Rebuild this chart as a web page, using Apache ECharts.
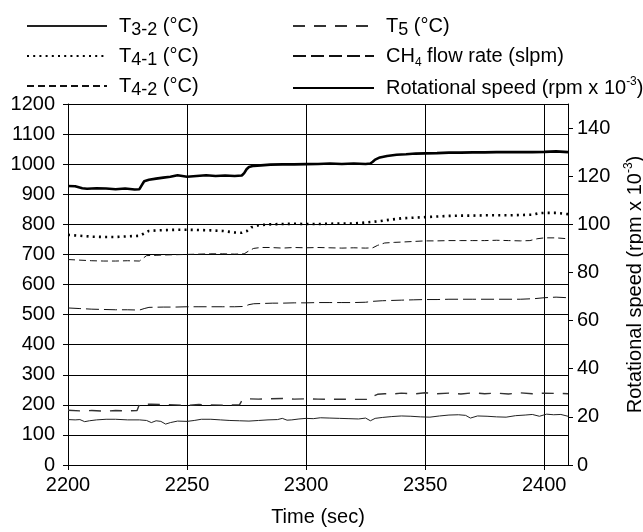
<!DOCTYPE html>
<html>
<head>
<meta charset="utf-8">
<script src="https://cdn.jsdelivr.net/npm/echarts@6/dist/echarts.min.js"></script>
<style>html,body{margin:0;padding:0;background:#fff;}#c{width:643px;height:532px;}</style>
</head>
<body>
<div id="c"></div>
<script>
// ---- data ----
const xTicks = [2200, 2250, 2300, 2350, 2400];
const leftTicks = [0, 100, 200, 300, 400, 500, 600, 700, 800, 900, 1000, 1100, 1200];
const rightTicks = [0, 20, 40, 60, 80, 100, 120, 140];

const t32Time = [2200,2203,2205,2207,2209,2212,2216,2220,2225,2230,2233,2235,2237,2239,2241,2243,2246,2250,2253,2256,2260,2264,2268,2272,2276,2280,2284,2288,2290,2292,2294,2297,2300,2303,2306,2310,2314,2318,2322,2325,2327,2329,2332,2336,2340,2344,2348,2352,2356,2360,2364,2367,2369,2372,2376,2380,2384,2388,2392,2395,2398,2401,2404,2407,2410];
const t32Values = [151,150,151,144,147,150,152,152,150,150,148,141,147,145,136,141,146,145,148,152,152,150,148,147,146,148,150,151,155,149,150,153,155,154,157,156,155,154,153,156,147,155,158,161,163,162,160,159,163,166,167,165,156,163,162,160,159,164,166,168,162,169,167,168,162];

const t41Time = [2200,2205,2210,2215,2220,2225,2230,2232,2234,2238,2242,2246,2250,2255,2260,2265,2270,2273,2275,2277,2280,2285,2290,2295,2300,2305,2310,2315,2320,2325,2330,2335,2340,2345,2350,2355,2360,2365,2370,2375,2380,2385,2390,2395,2398,2400,2405,2410];
const t41Values = [765,762,759,758,758,760,762,770,778,780,781,782,782,781,780,778,773,772,777,790,797,800,801,802,801,801,802,803,803,806,810,815,820,822,824,826,828,829,829,830,830,830,831,832,837,838,838,834];

const t42Time = [2200,2205,2210,2215,2220,2225,2230,2231,2233,2237,2240,2245,2250,2255,2260,2265,2270,2274,2276,2278,2281,2285,2290,2295,2300,2305,2310,2315,2320,2325,2328,2330,2333,2337,2340,2345,2350,2355,2360,2365,2370,2375,2380,2385,2390,2394,2397,2400,2405,2410];
const t42Values = [683,681,679,678,678,679,678,684,696,697,698,699,700,701,702,702,701,702,712,720,723,723,721,723,722,723,722,721,722,721,722,730,738,740,741,743,745,745,746,746,746,746,747,746,745,746,752,755,755,752];

const t5Time = [2200,2205,2210,2215,2220,2225,2229,2230,2235,2240,2245,2250,2255,2260,2265,2270,2272,2273,2275,2280,2285,2290,2295,2300,2305,2310,2315,2320,2325,2327,2328,2330,2333,2336,2340,2345,2350,2355,2360,2365,2370,2375,2380,2385,2390,2395,2400,2405,2410];
const t5Values = [182,180,181,179,181,180,181,201,202,201,200,198,201,200,199,200,200,214,220,219,220,221,219,220,219,218,219,218,218,219,228,235,237,236,239,236,240,237,239,236,240,237,239,236,240,237,239,238,237];

const ch4Time = [2200,2205,2210,2215,2220,2225,2230,2232,2234,2240,2245,2250,2255,2260,2265,2270,2274,2276,2278,2282,2286,2290,2295,2300,2305,2310,2315,2320,2325,2328,2332,2336,2340,2345,2350,2355,2360,2370,2380,2390,2396,2400,2405,2410];
const ch4Values = [522,520,518,517,516,516,515,520,524,525,525,526,526,526,526,526,527,533,536,537,538,538,539,539,540,540,540,540,541,544,546,547,548,549,550,550,551,551,551,551,553,556,558,556];

const rotTime = [2200,2203,2206,2208,2212,2216,2220,2224,2228,2230,2231,2232,2234,2237,2240,2243,2246,2250,2254,2258,2262,2266,2270,2273,2274,2275,2276,2278,2281,2285,2290,2295,2300,2305,2310,2315,2320,2325,2327,2328,2329,2331,2334,2338,2342,2346,2350,2355,2360,2365,2370,2375,2380,2385,2390,2395,2400,2405,2410];
const rotValues = [115.9,115.8,115.0,114.8,115.0,114.9,114.6,114.9,114.5,114.6,116.3,117.9,118.5,119.0,119.4,119.8,120.4,119.8,120.1,120.4,120.1,120.3,120.1,120.3,121.3,122.9,123.8,124.3,124.5,124.8,124.9,124.9,125.0,125.1,125.3,125.1,125.3,125.1,125.3,126.0,126.9,127.8,128.4,128.9,129.1,129.4,129.5,129.6,129.8,129.8,129.9,129.9,130.0,130.0,130.0,130.0,130.1,130.3,130.0];

const names = {
  t32: 'T3-2 (°C)', t41: 'T4-1 (°C)', t42: 'T4-2 (°C)',
  t5: 'T5 (°C)', ch4: 'CH4 flow rate (slpm)', rot: 'Rotational speed (rpm x 10-3)'
};
const legendRich = {
  '{g| }{m|T}{s|3-2}{m| (°C)}': names.t32,
  '{g| }{m|T}{s|4-1}{m| (°C)}': names.t41,
  '{g| }{m|T}{s|4-2}{m| (°C)}': names.t42,
  '{g| }{m|T}{s|5}{m| (°C)}': names.t5,
  '{g| }{m|CH}{s4|4}{m| flow rate (slpm)}': names.ch4,
  '{g| }{m|Rotational speed (rpm x 10}{sup|-3}{m|)}': names.rot
};
const richByName = {};
Object.keys(legendRich).forEach(k => { richByName[legendRich[k]] = k; });

const FONT = '"Liberation Sans", Arial, sans-serif';
const FS = 20;
const rich = {
  g: { width: 7, fontSize: FS, fontFamily: FONT },
  m: { fontSize: FS, fontFamily: FONT, color: '#000' },
  s: { fontSize: 18, fontFamily: FONT, color: '#000', padding: [9, 0, 0, 0] },
  s4: { fontSize: 12, fontFamily: FONT, color: '#000', padding: [14, 0, 0, 0] },
  sup: { fontSize: 12, fontFamily: FONT, color: '#000', padding: [0, 0, 12, 0] }
};

function pairs(t, v) { return t.map((x, i) => [x, v[i]]); }
const plain = v => String(v);

function legendAt(name, left, top, w) {
  return {
    data: [name], left: left, top: top, padding: 0,
    itemWidth: w, itemHeight: 14,
    itemStyle: { opacity: 0 },
    formatter: n => richByName[n],
    textStyle: { rich: rich }
  };
}

const chart = echarts.init(document.getElementById('c'), null, { renderer: 'canvas' });
chart.setOption({
  animation: false,
  backgroundColor: '#fff',
  textStyle: { fontFamily: FONT },
  grid: { left: 68, right: 75, top: 104, bottom: 67, containLabel: false, outerBoundsMode: 'none' },
  legend: [
    legendAt(names.t32, 26, 16, 80),
    legendAt(names.t41, 26, 46, 80),
    legendAt(names.t42, 26, 76, 80),
    legendAt(names.t5, 292, 16, 81),
    legendAt(names.ch4, 292, 46, 81),
    legendAt(names.rot, 292, 76, 81)
  ],
  xAxis: {
    type: 'value', min: 2200, max: 2410, interval: 50,
    name: 'Time (sec)', nameLocation: 'middle', nameGap: 42,
    nameTextStyle: { fontSize: FS, color: '#000', fontFamily: FONT },
    axisLine: { show: true, lineStyle: { color: '#000', width: 1 } },
    axisTick: { show: true, inside: false, length: 5, lineStyle: { color: '#000' }, customValues: xTicks },
    axisLabel: { fontSize: FS, color: '#000', margin: 10, customValues: xTicks, fontFamily: FONT, formatter: plain },
    splitLine: { show: true, lineStyle: { color: '#000', width: 1 } }
  },
  yAxis: [
    {
      type: 'value', min: 0, max: 1200, interval: 100, position: 'left',
      axisLine: { show: true, lineStyle: { color: '#000', width: 1 } },
      axisTick: { show: true, inside: false, length: 5, lineStyle: { color: '#000' } },
      axisLabel: { fontSize: FS, color: '#000', margin: 13, fontFamily: FONT,
        customValues: leftTicks, formatter: plain },
      splitLine: { show: true, lineStyle: { color: '#000', width: 1 } }
    },
    {
      type: 'value', min: 0, max: 150, interval: 20, position: 'right',
      name: 'Rotational speed (rpm x 10{sup|-3})',
      nameLocation: 'middle', nameGap: 55, nameRotate: 90,
      nameTextStyle: { fontSize: FS, color: '#000', fontFamily: FONT, rich: rich },
      axisLine: { show: true, lineStyle: { color: '#000', width: 1 } },
      axisTick: { show: true, inside: false, length: 5, lineStyle: { color: '#000' }, customValues: rightTicks },
      axisLabel: { fontSize: FS, color: '#000', margin: 9, customValues: rightTicks, fontFamily: FONT, formatter: plain },
      splitLine: { show: false }
    }
  ],
  series: [
    { name: names.t32, type: 'line', symbol: 'none', yAxisIndex: 0, data: pairs(t32Time, t32Values),
      lineStyle: { color: '#222', width: 1, type: 'solid' }, itemStyle: { color: '#222' } },
    { name: names.t41, type: 'line', symbol: 'none', yAxisIndex: 0, data: pairs(t41Time, t41Values),
      lineStyle: { color: '#000', width: 2.6, type: [2, 4.2], cap: 'butt' }, itemStyle: { color: '#000' } },
    { name: names.t42, type: 'line', symbol: 'none', yAxisIndex: 0, data: pairs(t42Time, t42Values),
      lineStyle: { color: '#111', width: 1, type: [7, 4] }, itemStyle: { color: '#111' } },
    { name: names.t5, type: 'line', symbol: 'none', yAxisIndex: 0, data: pairs(t5Time, t5Values),
      lineStyle: { color: '#333', width: 1.4, type: [12, 9] }, itemStyle: { color: '#333' } },
    { name: names.ch4, type: 'line', symbol: 'none', yAxisIndex: 0, data: pairs(ch4Time, ch4Values),
      lineStyle: { color: '#111', width: 1, type: [13, 5] }, itemStyle: { color: '#111' } },
    { name: names.rot, type: 'line', symbol: 'none', yAxisIndex: 1, data: pairs(rotTime, rotValues),
      lineStyle: { color: '#000', width: 2.6, type: 'solid' }, itemStyle: { color: '#000' } }
  ]
});
</script>
</body>
</html>
